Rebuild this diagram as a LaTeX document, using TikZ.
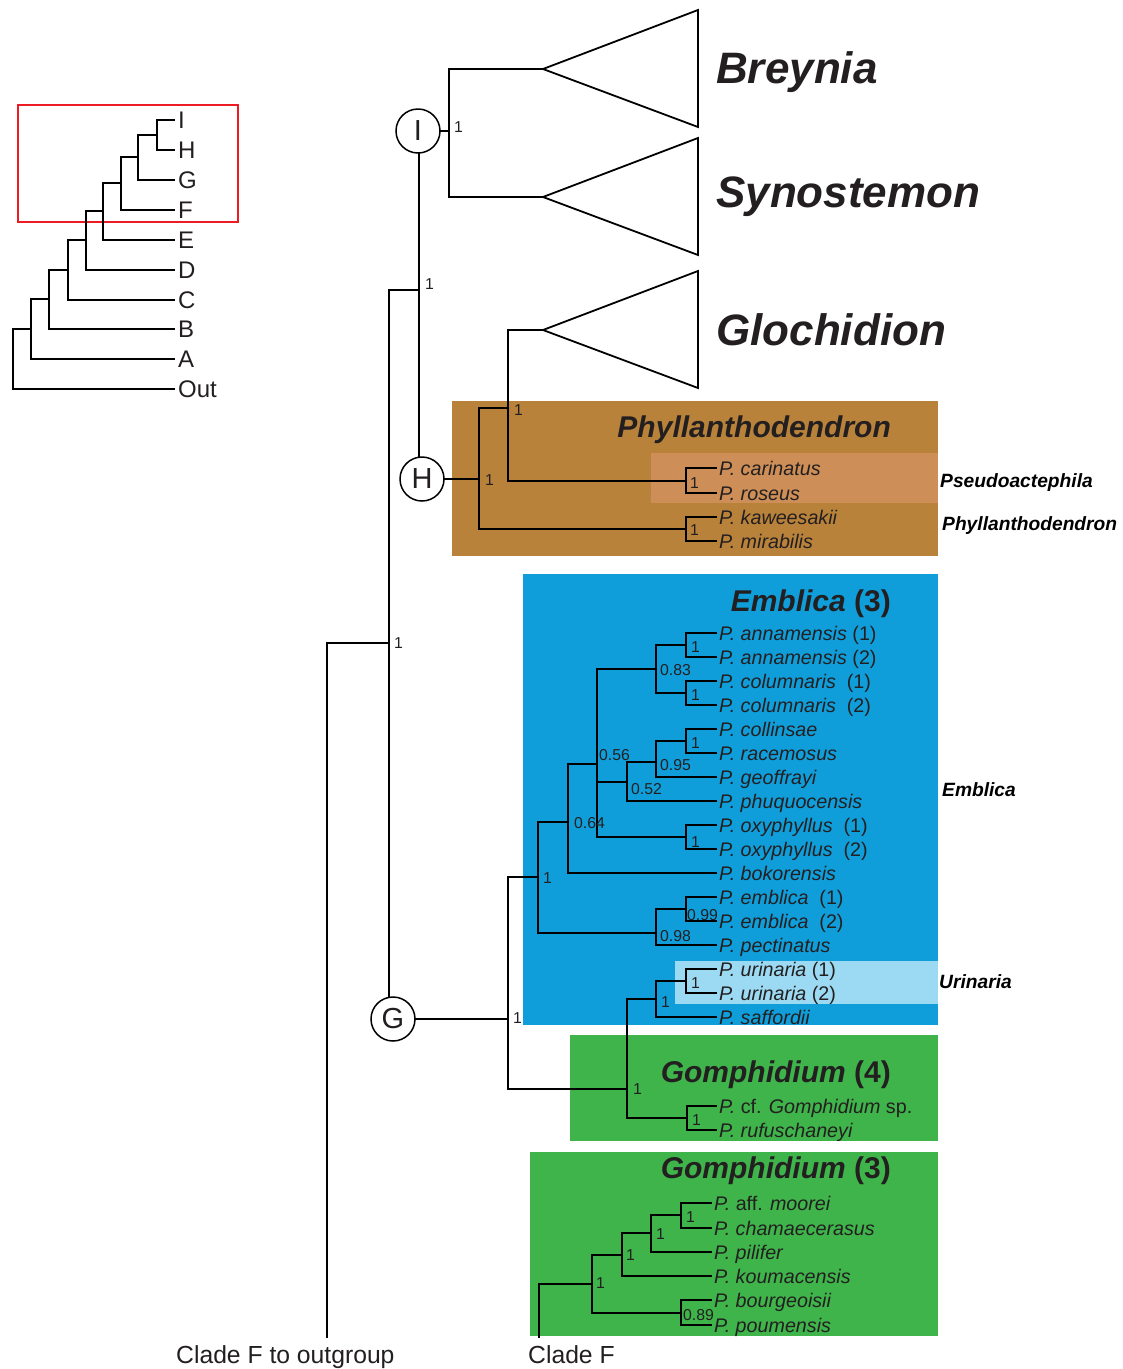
\documentclass[tikz,border=0pt]{standalone}
\usepackage{fontspec}
\setmainfont{Liberation Sans}
\definecolor{ink}{RGB}{35,31,32}
\definecolor{brownbox}{RGB}{185,130,58}
\definecolor{brownlight}{RGB}{205,143,87}
\definecolor{emblue}{RGB}{16,158,218}
\definecolor{urilight}{RGB}{155,218,242}
\definecolor{gomgreen}{RGB}{62,180,74}
\definecolor{boxred}{RGB}{237,28,36}
\newcommand{\spn}[1]{\textit{P.}~\textit{#1}}
\newcommand{\dsp}{\hspace{0.55em}}
\begin{document}
\begin{tikzpicture}[x=1pt,y=-1pt,
  tree/.style={line width=1.8pt,draw=black},
  itree/.style={line width=1.5pt,draw=black},
  tip/.style={anchor=west,inner xsep=2pt,inner ysep=0pt,font=\fontsize{19.7}{19.7}\selectfont,text height=14.1pt,text depth=0pt,text=ink},
  boot/.style={anchor=west,inner sep=0pt,font=\fontsize{15.8}{15.8}\selectfont,text height=11.3pt,text depth=0pt,text=ink},
  ttl/.style={anchor=east,inner sep=0pt,font=\fontsize{30}{30}\selectfont\bfseries,text height=21.5pt,text depth=0pt,text=ink},
  genus/.style={anchor=west,inner sep=0pt,font=\fontsize{44}{44}\selectfont\bfseries\itshape,text height=31.5pt,text depth=0pt,text=ink},
  side/.style={anchor=west,inner sep=0pt,font=\fontsize{19.2}{19.2}\selectfont\bfseries\itshape,text height=13.7pt,text depth=0pt,text=black},
  ilab/.style={anchor=west,inner xsep=3pt,inner ysep=0pt,font=\fontsize{24}{24}\selectfont,text height=17.2pt,text depth=0pt,text=ink},
  circ/.style={circle,draw=black,line width=1.5pt,fill=white,minimum size=44pt,inner sep=0pt,font=\fontsize{29}{29}\selectfont,text=ink},
  btm/.style={anchor=west,inner sep=0pt,font=\fontsize{24.7}{24.7}\selectfont,text height=17.7pt,text depth=0pt,text=ink}
]
\useasboundingbox (0,0) rectangle (1123,1369);

% ---------- coloured boxes
\fill[brownbox] (452,401) rectangle (938,556);
\fill[brownlight] (651,453) rectangle (938,503);
\fill[emblue] (523,574) rectangle (938,1025);
\fill[urilight] (675,961) rectangle (938,1004);
\fill[gomgreen] (570,1035) rectangle (938,1141);
\fill[gomgreen] (530,1152) rectangle (938,1336);

% ---------- inset tree
\draw[boxred,line width=1.6pt] (18,105) rectangle (238,222);
\node[ilab] (lI) at (175,120) {I};
\node[ilab] (lH) at (175,150) {H};
\node[ilab] (lG) at (175,180) {G};
\node[ilab] (lF) at (175,210) {F};
\node[ilab] (lE) at (175,240) {E};
\node[ilab] (lD) at (175,270) {D};
\node[ilab] (lC) at (175,300) {C};
\node[ilab] (lB) at (175,329) {B};
\node[ilab] (lA) at (175,359) {A};
\node[ilab] (lOut) at (175,389) {Out};
\coordinate (iIH) at (157,135);
\coordinate (iG) at (138,157);
\coordinate (iF) at (121,183);
\coordinate (iE) at (103,211);
\coordinate (iD) at (86,240);
\coordinate (iC) at (68,270);
\coordinate (iB) at (49,299);
\coordinate (iA) at (31,329);
\coordinate (iR) at (13,359);
\draw[itree] (iIH) |- (lI.west);  \draw[itree] (iIH) |- (lH.west);
\draw[itree] (iG) |- (iIH);       \draw[itree] (iG) |- (lG.west);
\draw[itree] (iF) |- (iG);        \draw[itree] (iF) |- (lF.west);
\draw[itree] (iE) |- (iF);        \draw[itree] (iE) |- (lE.west);
\draw[itree] (iD) |- (iE);        \draw[itree] (iD) |- (lD.west);
\draw[itree] (iC) |- (iD);        \draw[itree] (iC) |- (lC.west);
\draw[itree] (iB) |- (iC);        \draw[itree] (iB) |- (lB.west);
\draw[itree] (iA) |- (iB);        \draw[itree] (iA) |- (lA.west);
\draw[itree] (iR) |- (iA);        \draw[itree] (iR) |- (lOut.west);

% ---------- main backbone coordinates
\coordinate (cI) at (418,131);
\coordinate (cH) at (422,479);
\coordinate (cG) at (393,1019);
\coordinate (outF) at (327,1338);
\coordinate (cladeF) at (539,1338);
\coordinate (nA) at (389,643);
\coordinate (nIH) at (419,290);
\coordinate (nI) at (449,131);
\coordinate (aBre) at (543,69);
\coordinate (aSyn) at (543,197);
\coordinate (aGlo) at (543,330);
\coordinate (nPh) at (479,479);
\coordinate (nGlo) at (508,408);
\coordinate (nCR) at (686,481);
\coordinate (nKM) at (686,529);
\coordinate (nG) at (508,1019);
\coordinate (n1E) at (538,877);
\coordinate (nGU) at (627,1089);
\coordinate (n064) at (568,822);
\coordinate (n098) at (656,933);
\coordinate (n056) at (597,764);
\coordinate (n083) at (656,669);
\coordinate (n052) at (627,782);
\coordinate (nOxy) at (686,837);
\coordinate (nAnn) at (686,645);
\coordinate (nCol) at (686,693);
\coordinate (n095) at (656,762);
\coordinate (nCoR) at (686,741);
\coordinate (nEmb) at (686,909);
\coordinate (nSaf) at (656,999);
\coordinate (nUri) at (686,981);
\coordinate (nG4) at (687,1118);
\coordinate (n3r) at (592,1284);
\coordinate (nKou) at (622,1255);
\coordinate (nBP) at (681,1313);
\coordinate (nPil) at (651,1233);
\coordinate (nMC) at (681,1215);

% ---------- tip labels
\node[tip] (tcar) at (717,468) {\spn{carinatus}};
\node[tip] (tros) at (717,493) {\spn{roseus}};
\node[tip] (tkaw) at (717,517) {\spn{kaweesakii}};
\node[tip] (tmir) at (717,541) {\spn{mirabilis}};

\node[tip] (tan1) at (717,633) {\spn{annamensis} (1)};
\node[tip] (tan2) at (717,657) {\spn{annamensis} (2)};
\node[tip] (tco1) at (717,681) {\spn{columnaris}\dsp(1)};
\node[tip] (tco2) at (717,705) {\spn{columnaris}\dsp(2)};
\node[tip] (tcol) at (717,729) {\spn{collinsae}};
\node[tip] (trac) at (717,753) {\spn{racemosus}};
\node[tip] (tgeo) at (717,777) {\spn{geoffrayi}};
\node[tip] (tphu) at (717,801) {\spn{phuquocensis}};
\node[tip] (tox1) at (717,825) {\spn{oxyphyllus}\dsp(1)};
\node[tip] (tox2) at (717,849) {\spn{oxyphyllus}\dsp(2)};
\node[tip] (tbok) at (717,873) {\spn{bokorensis}};
\node[tip] (tem1) at (717,897) {\spn{emblica}\dsp(1)};
\node[tip] (tem2) at (717,921) {\spn{emblica}\dsp(2)};
\node[tip] (tpec) at (717,945) {\spn{pectinatus}};
\node[tip] (tur1) at (717,969) {\spn{urinaria} (1)};
\node[tip] (tur2) at (717,993) {\spn{urinaria} (2)};
\node[tip] (tsaf) at (717,1017) {\spn{saffordii}};

\node[tip] (tcf) at (717,1106) {\textit{P.} cf. \textit{Gomphidium} sp.};
\node[tip] (truf) at (717,1130) {\spn{rufuschaneyi}};

\node[tip] (tmoo) at (712,1203) {\textit{P.} aff. \textit{moorei}};
\node[tip] (tcha) at (712,1228) {\spn{chamaecerasus}};
\node[tip] (tpil) at (712,1252) {\spn{pilifer}};
\node[tip] (tkou) at (712,1276) {\spn{koumacensis}};
\node[tip] (tbou) at (712,1300) {\spn{bourgeoisii}};
\node[tip] (tpou) at (712,1325) {\spn{poumensis}};

% ---------- branches
\draw[tree] (outF) |- (nA);
\draw[tree] (nA) |- (nIH);
\draw[tree] (nA) -- (nA |- cG);
\draw[tree] (nIH |- cI) -- (nIH |- cH);
\draw[tree] (cI) -- (nI);
\draw[tree] (nI) |- (aBre);
\draw[tree] (nI) |- (aSyn);
\draw[tree,fill=white] (aBre) -- (698,10) -- (698,127) -- cycle;
\draw[tree,fill=white] (aSyn) -- (698,138) -- (698,255) -- cycle;
\draw[tree,fill=white] (aGlo) -- (698,271) -- (698,388) -- cycle;

\draw[tree] (cH) -- (nPh);
\draw[tree] (nPh) |- (nGlo);
\draw[tree] (nPh) |- (nKM);
\draw[tree] (nGlo) |- (aGlo);
\draw[tree] (nGlo) |- (nCR);
\draw[tree] (nCR) |- (tcar.west);
\draw[tree] (nCR) |- (tros.west);
\draw[tree] (nKM) |- (tkaw.west);
\draw[tree] (nKM) |- (tmir.west);

\draw[tree] (cG) -- (nG);
\draw[tree] (nG) |- (n1E);
\draw[tree] (nG) |- (nGU);
\draw[tree] (n1E) |- (n064);
\draw[tree] (n1E) |- (n098);
\draw[tree] (n064) |- (n056);
\draw[tree] (n064) |- (tbok.west);
\draw[tree] (n056) |- (n083);
\draw[tree] (n056) |- (n052);
\draw[tree] (n056) |- (nOxy);
\draw[tree] (n083) |- (nAnn);
\draw[tree] (n083) |- (nCol);
\draw[tree] (nAnn) |- (tan1.west);
\draw[tree] (nAnn) |- (tan2.west);
\draw[tree] (nCol) |- (tco1.west);
\draw[tree] (nCol) |- (tco2.west);
\draw[tree] (n052) |- (n095);
\draw[tree] (n052) |- (tphu.west);
\draw[tree] (n095) |- (nCoR);
\draw[tree] (n095) |- (tgeo.west);
\draw[tree] (nCoR) |- (tcol.west);
\draw[tree] (nCoR) |- (trac.west);
\draw[tree] (nOxy) |- (tox1.west);
\draw[tree] (nOxy) |- (tox2.west);
\draw[tree] (n098) |- (nEmb);
\draw[tree] (n098) |- (tpec.west);
\draw[tree] (nEmb) |- (tem1.west);
\draw[tree] (nEmb) |- (tem2.west);
\draw[tree] (nGU) |- (nSaf);
\draw[tree] (nGU) |- (nG4);
\draw[tree] (nSaf) |- (nUri);
\draw[tree] (nSaf) |- (tsaf.west);
\draw[tree] (nUri) |- (tur1.west);
\draw[tree] (nUri) |- (tur2.west);
\draw[tree] (nG4) |- (tcf.west);
\draw[tree] (nG4) |- (truf.west);

\draw[tree] (cladeF) |- (n3r);
\draw[tree] (n3r) |- (nKou);
\draw[tree] (n3r) |- (nBP);
\draw[tree] (nKou) |- (nPil);
\draw[tree] (nKou) |- (tkou.west);
\draw[tree] (nPil) |- (nMC);
\draw[tree] (nPil) |- (tpil.west);
\draw[tree] (nMC) |- (tmoo.west);
\draw[tree] (nMC) |- (tcha.west);
\draw[tree] (nBP) |- (tbou.west);
\draw[tree] (nBP) |- (tpou.west);

% ---------- clade circles
\node[circ] (I) at (cI) {I};
\node[circ] (H) at (cH) {H};
\node[circ] (G) at (cG) {G};

% ---------- support values
\node[boot] (b1) at (454,127) {1};
\node[boot] (b2) at (425,284) {1};
\node[boot] (b3) at (394,643) {1};
\node[boot] (b4) at (513,1018) {1};
\node[boot] (b5) at (543,878) {1};
\node[boot] (b6) at (574,823) {0.64};
\node[boot] (b7) at (599,755) {0.56};
\node[boot] (b8) at (660,670) {0.83};
\node[boot] (b9) at (691,647) {1};
\node[boot] (b10) at (691,695) {1};
\node[boot] (b11) at (691,743) {1};
\node[boot] (b12) at (660,765) {0.95};
\node[boot] (b13) at (631,789) {0.52};
\node[boot] (b14) at (691,842) {1};
\node[boot] (b15) at (687,915) {0.99};
\node[boot] (b16) at (660,936) {0.98};
\node[boot] (b17) at (691,983) {1};
\node[boot] (b18) at (661,1002) {1};
\node[boot] (b19) at (633,1089) {1};
\node[boot] (b20) at (692,1120) {1};
\node[boot] (b21) at (514,410) {1};
\node[boot] (b22) at (485,480) {1};
\node[boot] (b23) at (690,483) {1};
\node[boot] (b24) at (690,530) {1};
\node[boot] (b25) at (686,1217) {1};
\node[boot] (b26) at (656,1234) {1};
\node[boot] (b27) at (626,1255) {1};
\node[boot] (b28) at (596,1283) {1};
\node[boot] (b29) at (683,1315) {0.89};

% ---------- genus and clade titles
\node[genus] (gBre) at (716,68) {Breynia};
\node[genus] (gSyn) at (716,192) {Synostemon};
\node[genus] (gGlo) at (716,330) {Glochidion};
\node[ttl] (hPhy) at (891,427) {\textit{Phyllanthodendron}};
\node[ttl] (hEmb) at (891,601) {\textit{Emblica} (3)};
\node[ttl] (hG4) at (891,1072) {\textit{Gomphidium} (4)};
\node[ttl] (hG3) at (891,1168) {\textit{Gomphidium} (3)};

\node[side] (sPse) at (940,481) {Pseudoactephila};
\node[side] (sPhy) at (942,524) {Phyllanthodendron};
\node[side] (sEmb) at (942,790) {Emblica};
\node[side] (sUri) at (939,982) {Urinaria};

\node[btm] (lout) at (176,1355) {Clade F to outgroup};
\node[btm] (lcf) at (528,1355) {Clade F};
\end{tikzpicture}
\end{document}
